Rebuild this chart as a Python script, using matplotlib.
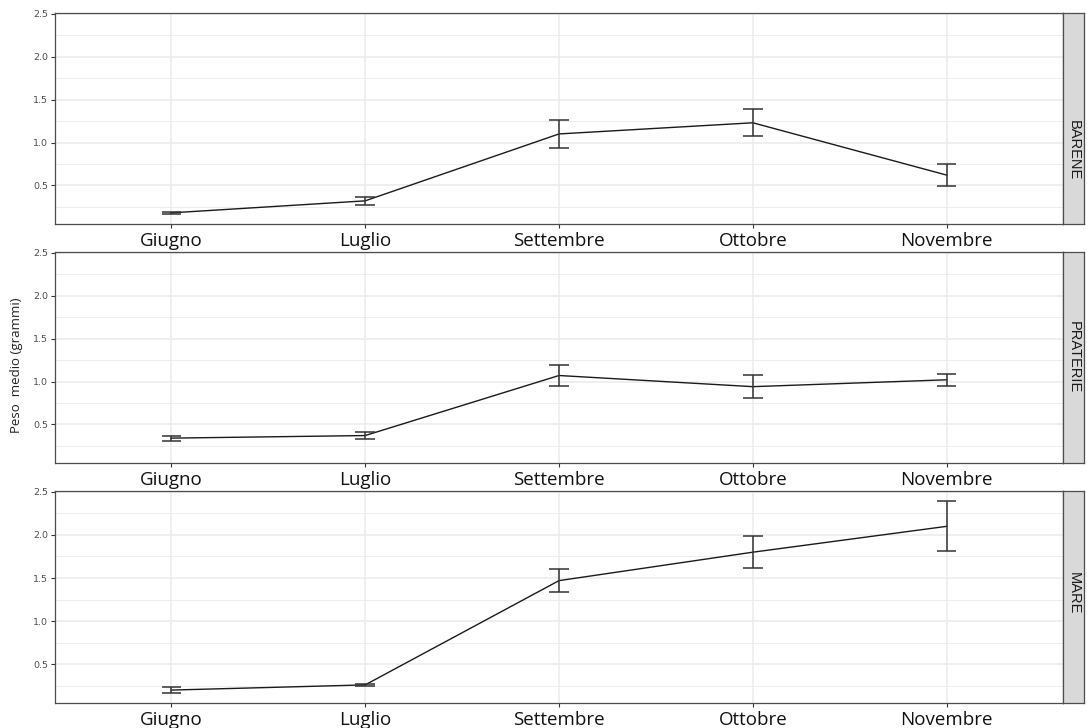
import matplotlib
matplotlib.use("Agg")
import matplotlib.pyplot as plt
from matplotlib.ticker import FixedLocator

months = ["Giugno", "Luglio", "Settembre", "Ottobre", "Novembre"]
habitats = ["BARENE", "PRATERIE", "MARE"]

barene_mean = [0.18, 0.32, 1.10, 1.23, 0.62]
barene_err = [0.012, 0.045, 0.165, 0.155, 0.125]
praterie_mean = [0.34, 0.37, 1.07, 0.94, 1.02]
praterie_err = [0.03, 0.045, 0.125, 0.135, 0.07]
mare_mean = [0.20, 0.26, 1.47, 1.80, 2.10]
mare_err = [0.03, 0.01, 0.13, 0.185, 0.29]

means = [barene_mean, praterie_mean, mare_mean]
errs = [barene_err, praterie_err, mare_err]

y_ticks = [0.5, 1.0, 1.5, 2.0, 2.5]
y_tick_labels = ["0.5", "1.0", "1.5", "2.0", "2.5"]

W, H = 1087, 728
fig = plt.figure(figsize=(W / 100, H / 100), dpi=100)

panel_px = [(13, 224), (252, 463), (491, 703)]
strip_label_pos = [0.35, 0.5, 0.52]
left_px, right_px, strip_w = 55, 1063, 21

grid_col = "#ebebeb"
border_col = "#4d4d4d"
x = list(range(1, len(months) + 1))
cap_half = 0.05

for i, (top, bot) in enumerate(panel_px):
    ax = fig.add_axes([left_px / W, 1 - bot / H, (right_px - left_px) / W, (bot - top) / H])
    ax.set_xlim(0.4, 5.6)
    ax.set_ylim(0.05, 2.51)
    ax.yaxis.set_major_locator(FixedLocator(y_ticks))
    ax.set_yticklabels(y_tick_labels)
    ax.yaxis.set_minor_locator(FixedLocator([0.25, 0.75, 1.25, 1.75, 2.25]))
    ax.set_xticks(x)
    ax.set_xticklabels(months)
    ax.set_axisbelow(True)
    ax.grid(which="major", color=grid_col, linewidth=1.1)
    ax.grid(which="minor", axis="y", color=grid_col, linewidth=0.6)
    for sp in ax.spines.values():
        sp.set_color(border_col)
        sp.set_linewidth(0.9)
    ax.tick_params(axis="y", which="major", length=3, color="#333333",
                   labelsize=6.8, labelcolor="#4d4d4d", pad=2)
    ax.tick_params(axis="y", which="minor", length=0)
    ax.tick_params(axis="x", length=3, color="#333333", labelsize=13.5, pad=2.5)
    for lab in ax.get_xticklabels():
        lab.set_fontfamily(["Open Sans", "DejaVu Sans"])
        lab.set_color("#111111")

    m, e = means[i], errs[i]
    ax.plot(x, m, color="#1a1a1a", linewidth=1.0, zorder=3)
    lo = [mv - ev for mv, ev in zip(m, e)]
    hi = [mv + ev for mv, ev in zip(m, e)]
    ax.vlines(x, lo, hi, color="#333333", linewidth=1.1, zorder=3)
    ax.hlines(lo, [xi - cap_half for xi in x], [xi + cap_half for xi in x],
              color="#333333", linewidth=1.1, zorder=3)
    ax.hlines(hi, [xi - cap_half for xi in x], [xi + cap_half for xi in x],
              color="#333333", linewidth=1.1, zorder=3)

    # facet strip on the right
    sax = fig.add_axes([right_px / W, 1 - bot / H, strip_w / W, (bot - top) / H])
    sax.set_xticks([])
    sax.set_yticks([])
    sax.set_facecolor("#d9d9d9")
    for sp in sax.spines.values():
        sp.set_color(border_col)
        sp.set_linewidth(0.9)
    sax.text(0.5, strip_label_pos[i], habitats[i], rotation=270, ha="center", va="center",
             fontsize=10.5, color="#1a1a1a", family=["Liberation Sans", "DejaVu Sans"],
             transform=sax.transAxes)

fig.text(17 / W, 1 - 365 / H, "Peso  medio (grammi)", rotation=90, ha="center",
         va="center", fontsize=9.5, color="#222222", family=["Open Sans", "DejaVu Sans"])

fig.savefig("out.png", dpi=100, facecolor="white")
